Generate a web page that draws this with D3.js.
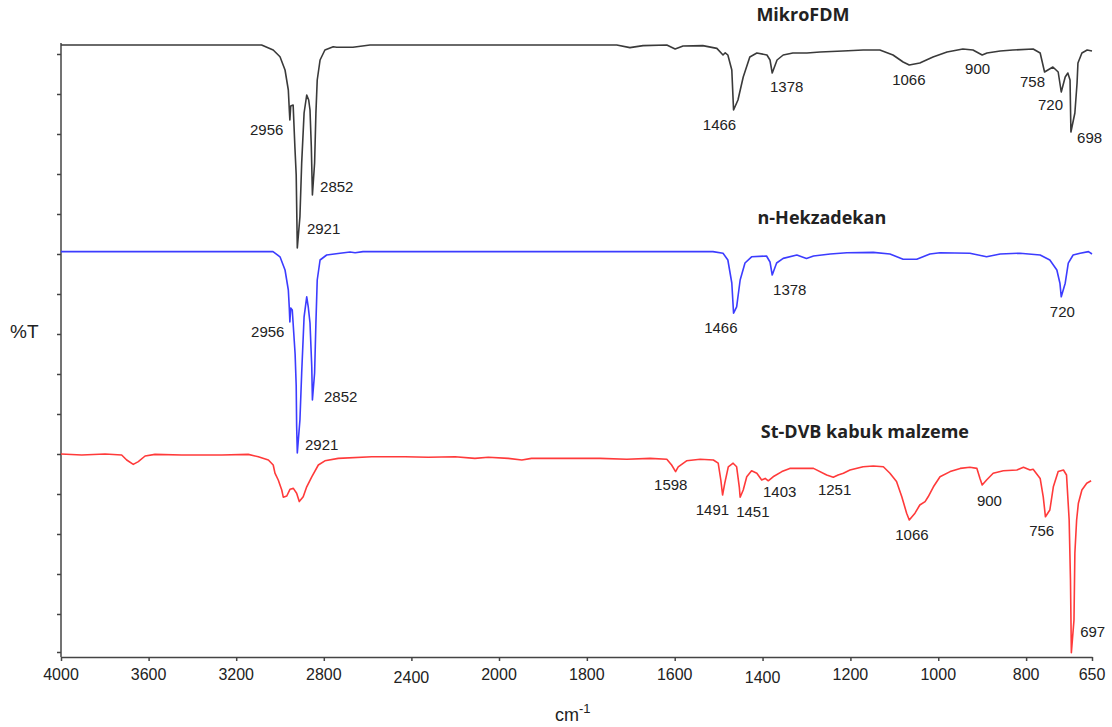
<!DOCTYPE html>
<html>
<head>
<meta charset="utf-8">
<script src="https://cdn.jsdelivr.net/npm/d3@7"></script>
<style>
	body { margin: 0; background: #fff; }
	svg { display: block; }
	.axis path, .axis line { stroke: #444; stroke-width: 1.5; }
	.tickLabel, .peak { font-family: "Liberation Sans", Arial, sans-serif; fill: #222; }
	.title { font-family: "Open Sans", sans-serif; font-weight: bold; fill: #222; }
</style>
</head>
<body>
<div id="chart"></div>
<script>
// spectra: [wavenumber cm-1, %T (offset)]
var mikroFDM = [
	[4000,152.25],[3084,152.25],[3031,151],[3000,149.3],[2977,146],[2962,141],[2957,135.5],[2955,133.5],
	[2951,137],[2940,137.25],[2932,126.75],[2926,119.75],[2921,101.5],[2909,109.3],[2901,122.75],
	[2890,135.25],[2878,139.75],[2869,138.5],[2863,136],[2857,126.8],[2852,114.75],[2842,122.75],
	[2836,135.25],[2830,143.5],[2817,148.5],[2795,151],[2757,151.8],[2741,151.7],[2667,151.7],
	[2589,152.25],[1732,152.25],[1702,151.6],[1672,152.1],[1618,152.25],[1599,151.25],[1581,152],
	[1536,152.1],[1504,151.4],[1490,149.75],[1485,150.3],[1479,149.75],[1470,146],[1466,136],
	[1456,138.5],[1444,144.25],[1429,149.25],[1413,150.25],[1390,149.75],[1383,148.5],[1378,145.25],
	[1367,148.5],[1353,149.75],[1331,150.25],[1299,150.25],[1269,150.5],[1217,150.75],[1171,151],
	[1133,151],[1103,149.75],[1080,148],[1066,147.25],[1042,147.75],[1012,149.25],[980,150.5],
	[944,151.25],[921,151],[900,149.75],[889,150.25],[859,150.75],[830,151],[784,151.25],[768,150.25],
	[758,145.5],[739,146.75],[727,145.5],[720,140.5],[711,144.25],[705,145.25],[700,143.5],[698,130.5],
	[689,135.25],[684,142.75],[682,147.75],[673,150.25],[661,151],[650,150.75]
];
var nHekzadekan = [
	[4000,100.6],[3032,100.6],[3000,99.3],[2977,96],[2962,91],[2958,87],[2955,83],[2951,86.5],
	[2944,86],[2931,75],[2926,67],[2924,57],[2921,50.25],[2909,58.5],[2901,70.25],[2890,84.3],
	[2878,89.3],[2871,86.8],[2863,82.75],[2855,71.8],[2852,63.5],[2842,70.25],[2836,82.75],
	[2830,93.5],[2817,98.5],[2787,99.75],[2726,100.2],[2680,100.5],[2657,100.3],[2621,100.6],
	[1513,100.6],[1490,100.2],[1479,98.5],[1470,92.75],[1466,85.2],[1459,86.8],[1451,93.5],
	[1440,97.75],[1425,99.3],[1391,99.5],[1383,98],[1378,94.75],[1368,97.75],[1353,98.9],[1322,99.75],
	[1300,98.9],[1284,99.5],[1246,100],[1208,100.3],[1148,100.4],[1110,100],[1080,98.7],[1049,98.7],
	[1019,100],[996,100.3],[928,100.2],[890,99.3],[859,100],[814,100.2],[768,99.75],[746,98.5],
	[730,96],[723,92.7],[720,89.3],[711,92.7],[704,97.7],[693,99.75],[677,100.2],[658,100.6],[650,100]
];
var stDVB = [
	[4000,50],[3905,49.75],[3799,50],[3723,49.75],[3700,48.5],[3670,47.4],[3647,48.1],[3616,49.5],
	[3571,49.9],[3449,49.75],[3266,49.75],[3145,49.9],[3099,49.3],[3053,48.5],[3031,47.25],[3023,45.2],
	[3008,43.5],[2992,41],[2985,39.2],[2969,39.5],[2954,41.2],[2939,41.4],[2924,40.2],[2912,38.1],
	[2894,39.3],[2878,41.8],[2855,44.3],[2825,47.25],[2795,48.3],[2734,48.9],[2581,49.3],[2429,49.3],
	[2323,49.2],[2201,49.3],[2110,48.9],[2049,49.2],[1979,48.9],[1948,48.5],[1926,48.9],[1770,48.9],
	[1709,48.7],[1656,48.9],[1618,48.7],[1607,47.25],[1598,45.6],[1592,46.8],[1573,48.3],[1542,48.7],
	[1512,48.5],[1501,47.7],[1495,43.5],[1491,39.75],[1486,42.7],[1478,46.8],[1467,47.7],[1459,46.8],
	[1453,41.8],[1451,39.2],[1444,41],[1436,44.3],[1425,45.8],[1413,45.2],[1402,43.5],[1394,43.9],
	[1387,43.3],[1376,44.3],[1356,45.6],[1338,46.4],[1284,46.4],[1254,44.75],[1239,44.2],[1228,44.75],
	[1216,45.2],[1201,46],[1171,46.8],[1148,47],[1125,46.8],[1110,45.2],[1095,43.1],[1083,39.3],
	[1072,35.2],[1066,33.5],[1053,35.2],[1042,37.25],[1030,38.1],[1023,39.3],[1011,41.8],[996,44.3],
	[973,45.6],[950,46.4],[928,46.7],[912,46.4],[905,43.9],[900,42.25],[890,43.5],[875,45.2],
	[852,45.8],[821,46],[806,46.7],[791,46],[784,46.2],[768,43.9],[761,39.3],[756,34.3],[746,36],
	[738,41.8],[727,45.6],[715,46],[708,44.75],[702,33.5],[699,18.5],[697,0.3],[691,8.5],[689,25.2],
	[685,33.5],[681,37.7],[673,41],[662,42.7],[652,43.3]
];

// peak labels: [text, wavenumber, %T] (left edge / baseline of text)
var mikroPeaks = [
	["2956",3137,129.75],["2852",2817,115.5],["2921",2877,105],["1466",1536,131],["1378",1383,140.5],
	["1066",1105,142.25],["900",939,145],["758",814,141.75],["720",773,136],["698",684,127.75]
];
var hekzPeaks = [
	["2956",3132,79.25],["2852",2799,63],["2921",2886,51],["1466",1533,80.25],["1378",1376,89.75],["720",746,84.25]
];
var dvbPeaks = [
	["1598",1647,41],["1491",1552,34.75],["1451",1460,34.25],["1403",1399,39.25],["1251",1274,39.75],
	["1066",1098,28.5],["900",912,37],["756",793,29.5],["697",677,4.25]
];
var seriesNames = ["MikroFDM", "n-Hekzadekan", "St-DVB kabuk malzeme"];
var seriesTitlePos = [[1308,158.25],[1265,107.5],[1167,54]];
var seriesColors = ["#3a3a3a", "#3c3cff", "#ff3a3a"];

var xTicks = [4000,3600,3200,2800,2400,2000,1800,1600,1400,1200,1000,800,650];
var yTicks = [0.5,10,20,30,40,50,60,70,80,90,100,110,120,130,140,150];

var width = 1112, height = 727;

var svg = d3.select("#chart").append("svg")
	.attr("width", width)
	.attr("height", height);

// x scale is expanded 2x below 2000 cm-1
var x = d3.scaleLinear().domain([4000, 2000, 650]).range([61, 499, 1092]);
var y = d3.scaleLinear().domain([0, 150]).range([654, 54]);

var line = d3.line()
	.x(d => x(d[0]))
	.y(d => y(d[1]));

// axes
var xAxis = svg.append("g")
	.attr("class", "axis")
	.attr("transform", "translate(0," + y(-0.75) + ")")
	.call(d3.axisBottom(x).tickValues(xTicks).tickSize(4).tickSizeOuter(0).tickFormat(""));

xAxis.selectAll(".tickLabel")
	.data(xTicks)
	.enter().append("text")
	.attr("class", "tickLabel")
	.attr("x", d => x(d))
	.attr("y", d => (d == 2400 || d == 1400) ? 26 : 23)
	.attr("text-anchor", "middle")
	.style("font-size", "16px")
	.text(d => d);

var yAxis = svg.append("g")
	.attr("class", "axis")
	.attr("transform", "translate(" + x(4000) + ",0)")
	.call(d3.axisLeft(y).tickValues(yTicks).tickSize(4).tickSizeOuter(0).tickFormat(""));
yAxis.select(".domain").attr("d", "M0," + y(-0.75) + "V" + y(152.75));

svg.append("text")
	.attr("class", "tickLabel")
	.attr("x", 10)
	.attr("y", 338)
	.style("font-size", "19px")
	.text("%T");

var unit = svg.append("text")
	.attr("class", "tickLabel")
	.attr("x", 555)
	.attr("y", 721)
	.style("font-size", "18px");
unit.append("tspan").text("cm");
unit.append("tspan").attr("dy", -8).style("font-size", "13px").text("-1");

// traces
var spectra = [mikroFDM, nHekzadekan, stDVB];
var peaks = [mikroPeaks, hekzPeaks, dvbPeaks];

svg.append("g")
	.selectAll("path")
	.data(spectra)
	.enter().append("path")
	.attr("d", line)
	.attr("fill", "none")
	.attr("stroke", (d, i) => seriesColors[i])
	.attr("stroke-width", 1.6)
	.attr("stroke-linejoin", "round");

peaks.forEach(function(list) {
	svg.append("g")
		.selectAll("text")
		.data(list)
		.enter().append("text")
		.attr("class", "peak")
		.attr("x", d => x(d[1]))
		.attr("y", d => y(d[2]))
		.style("font-size", "15px")
		.text(d => d[0]);
});

svg.append("g")
	.selectAll("text")
	.data(seriesNames)
	.enter().append("text")
	.attr("class", "title")
	.attr("x", (d, i) => x(seriesTitlePos[i][0]))
	.attr("y", (d, i) => y(seriesTitlePos[i][1]))
	.attr("text-anchor", "middle")
	.style("font-size", "18px")
	.text(d => d);
</script>
</body>
</html>
